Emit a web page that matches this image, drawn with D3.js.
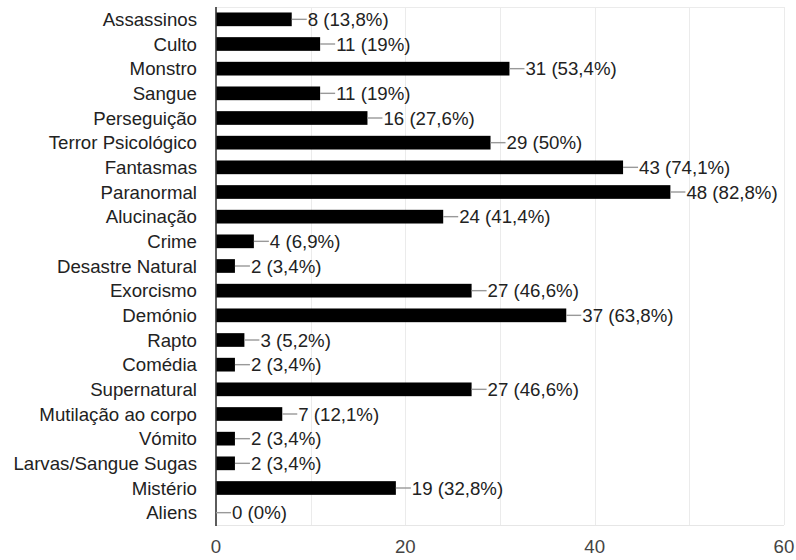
<!DOCTYPE html>
<html><head><meta charset="utf-8">
<script src="https://cdn.jsdelivr.net/npm/d3@7"></script>
<style>body{margin:0;background:#fff;} text{font-family:"Liberation Sans", Arial, sans-serif;}</style>
</head><body>
<svg id="c" width="796" height="560"></svg>
<script>
const categories = ["Assassinos","Culto","Monstro","Sangue","Perseguição","Terror Psicológico","Fantasmas","Paranormal","Alucinação","Crime","Desastre Natural","Exorcismo","Demónio","Rapto","Comédia","Supernatural","Mutilação ao corpo","Vómito","Larvas/Sangue Sugas","Mistério","Aliens"];
const values = [8,11,31,11,16,29,43,48,24,4,2,27,37,3,2,27,7,2,2,19,0];
const percents = ["13,8%","19%","53,4%","19%","27,6%","50%","74,1%","82,8%","41,4%","6,9%","3,4%","46,6%","63,8%","5,2%","3,4%","46,6%","12,1%","3,4%","3,4%","32,8%","0%"];
const xTicks = [0,20,40,60];
const gridTicks = [10,20,30,40,50,60];

(function(){
const svg = d3.select("#c");
const L = 216, R = 784, T = 7, B = 525;
const FS = 18.67;
const x = d3.scaleLinear().domain([0,60]).range([L,R]);
const y = d3.scaleBand().domain(categories).range([T,B]).paddingInner(0.445).paddingOuter(0.2225);

svg.append("g").selectAll("line").data(gridTicks).join("line")
  .attr("x1",d=>Math.round(x(d))+0.5).attr("x2",d=>Math.round(x(d))+0.5).attr("y1",T).attr("y2",B)
  .attr("stroke","#ebebeb").attr("stroke-width",1);
svg.append("line").attr("x1",L).attr("x2",R).attr("y1",B+0.5).attr("y2",B+0.5).attr("stroke","#e6e6e6");
svg.append("line").attr("x1",L).attr("x2",R).attr("y1",T+0.5).attr("y2",T+0.5).attr("stroke","#ebebeb");

svg.append("g").selectAll("rect").data(values).join("rect")
  .attr("x",x(0)).attr("y",(d,i)=>y(categories[i]))
  .attr("width",d=>x(d)-x(0)).attr("height",y.bandwidth())
  .attr("fill","#000");

svg.append("line").attr("x1",L).attr("x2",L).attr("y1",T).attr("y2",B+1).attr("stroke","#333").attr("stroke-width",1.6);

const lab = svg.append("g");
values.forEach((v,i)=>{
  const cy = y(categories[i]) + y.bandwidth()/2;
  lab.append("line").attr("x1",x(v)).attr("x2",x(v)+15).attr("y1",cy).attr("y2",cy).attr("stroke","#999").attr("stroke-width",1.4);
  lab.append("text").attr("x",x(v)+16).attr("y",cy).attr("dy","0.36em").attr("font-size",FS).attr("fill","#222")
    .text(v+" ("+percents[i]+")");
});

svg.append("g").selectAll("text").data(categories).join("text")
  .attr("x",197).attr("y",d=>y(d)+y.bandwidth()/2).attr("dy","0.36em")
  .attr("text-anchor","end").attr("font-size",FS).attr("fill","#222").text(d=>d);

svg.append("g").selectAll("text").data(xTicks).join("text")
  .attr("x",d=>x(d)).attr("y",553.3).attr("text-anchor","middle")
  .attr("font-size",FS).attr("fill","#444").text(d=>d);
})();
</script>
</body></html>
